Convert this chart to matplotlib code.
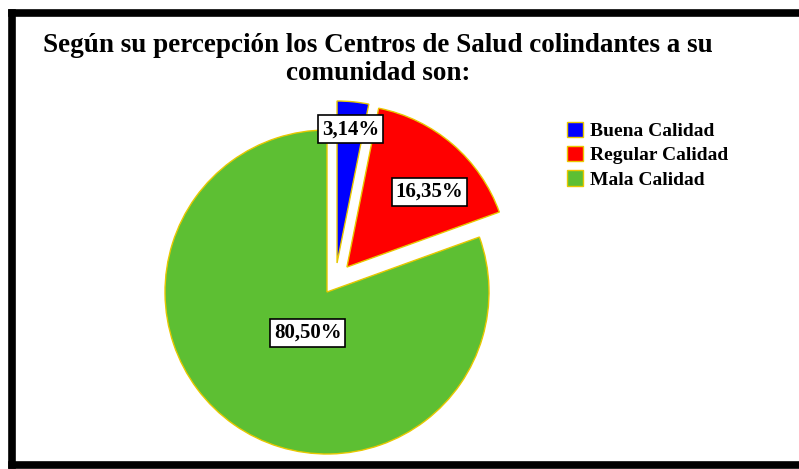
import numpy as np
import matplotlib.pyplot as plt
from matplotlib.lines import Line2D

# datos
categorias = ['Buena Calidad', 'Regular Calidad', 'Mala Calidad']
porcentajes = [3.14, 16.35, 80.50]
colores = ['#0000ff', '#ff0000', '#5dbf33']
# desplazamiento de cada porcion (en radios)
separacion = [(0.062, 0.179), (0.123, 0.154), (0.0, 0.0)]
# posicion de etiquetas: distancia y giro respecto al angulo medio
dist_etiqueta = [0.83, 0.69, 0.28]
giro_etiqueta = [0, -7, 10]

titulo = 'Según su percepción los Centros de Salud colindantes a su\ncomunidad son:'

plt.rcParams['font.family'] = ['Liberation Serif', 'DejaVu Serif']

W, H = 799, 469
fig = plt.figure(figsize=(W / 100, H / 100), dpi=100)
fig.patch.set_facecolor('white')

# centro del pastel y radio en pixeles
cx, cy, R = 327, 292, 162
ax_l, ax_r, ax_t, ax_b = 100, 560, 80, 469
ax = fig.add_axes([ax_l / W, 1 - ax_b / H, (ax_r - ax_l) / W, (ax_b - ax_t) / H])

wedges, _ = ax.pie(porcentajes, colors=colores,
                   startangle=90, counterclock=False, radius=1,
                   wedgeprops=dict(edgecolor='#e8c800', linewidth=1.0))
ax.set_xlim((ax_l - cx) / R, (ax_r - cx) / R)
ax.set_ylim(-(ax_b - cy) / R, (cy - ax_t) / R)
ax.set_aspect('auto')
ax.axis('off')

# separar porciones y poner etiquetas con recuadro
for w, p, d, g, s in zip(wedges, porcentajes, dist_etiqueta, giro_etiqueta, separacion):
    w.set_center(s)
    ang = np.deg2rad((w.theta1 + w.theta2) / 2 + g)
    x = s[0] + d * np.cos(ang)
    y = s[1] + d * np.sin(ang)
    ax.text(x, y, f'{p:.2f}%'.replace('.', ','), ha='center', va='center',
            fontsize=15, fontweight='bold',
            bbox=dict(boxstyle='square,pad=0.18', facecolor='white',
                      edgecolor='black', linewidth=1.2))

leg = fig.legend(wedges, categorias, loc='upper left',
                 bbox_to_anchor=(553 / W, 1 - 108 / H), frameon=False,
                 prop=dict(size=14, weight='bold'), handlelength=0.85,
                 handleheight=0.85, handletextpad=0.35, labelspacing=0.3,
                 borderpad=0.2)

fig.text(378 / W, 1 - 33 / H, titulo, ha='center', va='top',
         fontsize=19.5, fontweight='bold', linespacing=1.15)

# marco negro
lw = 5.5
fig.add_artist(Line2D([11.5 / W, 1.02], [1 - 13.5 / H] * 2, color='black', lw=lw,
                      transform=fig.transFigure, solid_capstyle='projecting'))
fig.add_artist(Line2D([11.5 / W, 11.5 / W], [1 - 13.5 / H, 1 - 464.5 / H], color='black', lw=lw,
                      transform=fig.transFigure, solid_capstyle='projecting'))
fig.add_artist(Line2D([11.5 / W, 1.02], [1 - 464.5 / H] * 2, color='black', lw=lw,
                      transform=fig.transFigure, solid_capstyle='projecting'))

fig.savefig('out.png', dpi=100)
